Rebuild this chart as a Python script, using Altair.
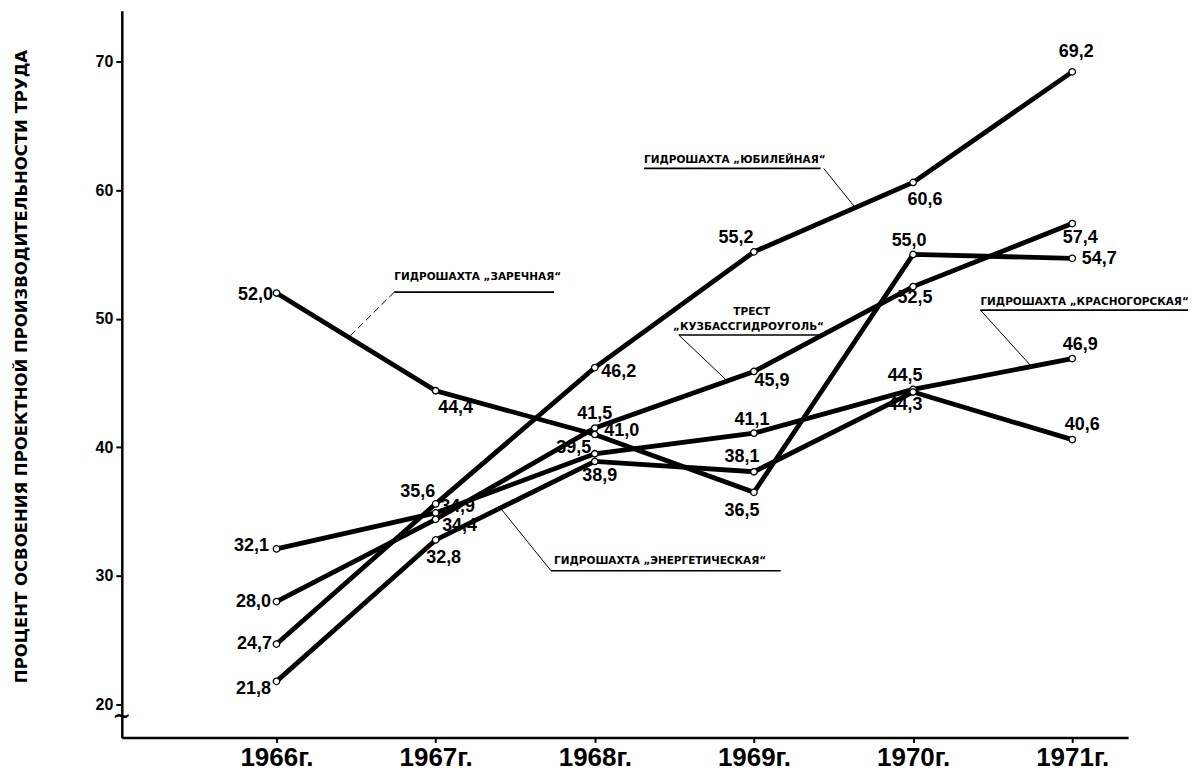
import altair as alt
import pandas as pd

# ---------------- data ----------------
years = [1966, 1967, 1968, 1969, 1970, 1971]
x_labels = ["1966г.", "1967г.", "1968г.", "1969г.", "1970г.", "1971г."]
y_ticks = [20, 30, 40, 50, 60, 70]

series_names = ["Юбилейная", "Заречная", "Кузбассгидроуголь", "Красногорская", "Энергетическая"]
yubileynaya = [24.7, 35.6, 46.2, 55.2, 60.6, 69.2]
zarechnaya = [52.0, 44.4, 41.0, 36.5, 55.0, 54.7]
kuzbass = [28.0, 34.4, 41.5, 45.9, 52.5, 57.4]
krasnogorskaya = [32.1, 34.9, 39.5, 41.1, 44.5, 46.9]
energeticheskaya = [21.8, 32.8, 38.9, 38.1, 44.3, 40.6]
series_values = [yubileynaya, zarechnaya, kuzbass, krasnogorskaya, energeticheskaya]

y_title = "ПРОЦЕНТ ОСВОЕНИЯ ПРОЕКТНОЙ ПРОИЗВОДИТЕЛЬНОСТИ ТРУДА"

# ---------------- layout / style ----------------
W, H = 1008, 728
XMIN, XMAX = 1965.028, 1971.351
YMIN, YMAX = 17.44, 73.96
PX_X = W / (XMAX - XMIN)
PX_Y = H / (YMAX - YMIN)

NARROW = "Liberation Sans Narrow, Liberation Sans, Arial, sans-serif"
WIDE = "DejaVu Sans, sans-serif"

# label offsets in pixels (dx, dy) for each series, per year
label_offsets = {
    "Юбилейная": [(-22, 0), (-18, -12), (24, 4), (-18, -14), (12, 18), (4, -20)],
    "Заречная": [(-21, 2), (20, 17), (27, -3), (-12, 19), (-4, -13), (27, 1)],
    "Кузбассгидроуголь": [(-23, 0), (24, 7), (0, -14), (18, 10), (2, 11), (8, 14)],
    "Красногорская": [(-25, -3), (22, -6), (-21, -6), (-2, -13), (-8, -13), (8, -14)],
    "Энергетическая": [(-23, 8), (8, 18), (5, 15), (-12, -15), (-8, 13), (10, -15)],
}

rows = []
for name, vals in zip(series_names, series_values):
    for i, (yr, v) in enumerate(zip(years, vals)):
        dx, dy = label_offsets[name][i]
        rows.append({
            "series": name, "year": yr, "value": v,
            "label": f"{v:.1f}".replace(".", ","),
            "lx": yr + dx / PX_X, "ly": v - dy / PX_Y,
        })
df = pd.DataFrame(rows)

x_scale = alt.Scale(domain=[XMIN, XMAX], nice=False, zero=False)
y_scale = alt.Scale(domain=[YMIN, YMAX], nice=False, zero=False)

label_map = "{" + ",".join(f"'{y}':'{l}'" for y, l in zip(years, x_labels)) + "}"

x_axis = alt.Axis(values=years, labelExpr=f"{label_map}[datum.value]", title=None,
                  grid=False, domainColor="black", domainWidth=2.5, tickColor="black",
                  tickWidth=2, tickSize=5, labelFont=NARROW, labelFontSize=26,
                  labelFontWeight="bold", labelColor="black", labelPadding=2)
y_axis = alt.Axis(values=y_ticks, format="d", title=y_title, grid=False,
                  domainColor="black", domainWidth=2.5, tickColor="black", tickWidth=2,
                  tickSize=6, labelFont=NARROW, labelFontSize=16, labelFontWeight="bold",
                  labelColor="black", labelPadding=3,
                  titleFont=WIDE, titleFontSize=16.5, titleFontWeight="bold", titleColor="black",
                  titleAngle=270, titleX=-100, titleY=H / 2 - 8, titleAlign="center",
                  titleBaseline="middle")

base = alt.Chart(df)

lines = base.mark_line(color="black", strokeWidth=4.8).encode(
    x=alt.X("year:Q", scale=x_scale, axis=x_axis),
    y=alt.Y("value:Q", scale=y_scale, axis=y_axis),
    detail="series:N",
    order="year:Q",
)

points = base.mark_point(shape="circle", filled=True, fill="white", stroke="black",
                         strokeWidth=1.3, size=42, opacity=1).encode(
    x=alt.X("year:Q", scale=x_scale),
    y=alt.Y("value:Q", scale=y_scale),
)

labels = base.mark_text(font=NARROW, fontSize=18, fontWeight="bold", color="black",
                        align="center", baseline="middle").encode(
    x=alt.X("lx:Q", scale=x_scale),
    y=alt.Y("ly:Q", scale=y_scale),
    text="label:N",
)

# ---------------- annotations (data units) ----------------
ann_text = pd.DataFrame([
    {"t": "ГИДРОШАХТА „ЮБИЛЕЙНАЯ“", "x": 1968.309, "y": 62.1, "a": "left"},
    {"t": "ГИДРОШАХТА „ЗАРЕЧНАЯ“", "x": 1966.740, "y": 53.0, "a": "left"},
    {"t": "ТРЕСТ", "x": 1968.986, "y": 50.5, "a": "center"},
    {"t": "„КУЗБАССГИДРОУГОЛЬ“", "x": 1968.966, "y": 49.35, "a": "center"},
    {"t": "ГИДРОШАХТА „КРАСНОГОРСКАЯ“", "x": 1970.423, "y": 51.06, "a": "left"},
    {"t": "ГИДРОШАХТА „ЭНЕРГЕТИЧЕСКАЯ“", "x": 1967.744, "y": 30.95, "a": "left"},
])
ann_left = alt.Chart(ann_text).transform_filter("datum.a == 'left'").mark_text(
    font=WIDE, fontSize=10.5, fontWeight="bold", color="black", align="left",
    baseline="alphabetic").encode(
    x=alt.X("x:Q", scale=x_scale), y=alt.Y("y:Q", scale=y_scale), text="t:N")
ann_center = alt.Chart(ann_text).transform_filter("datum.a == 'center'").mark_text(
    font=WIDE, fontSize=10.5, fontWeight="bold", color="black", align="center",
    baseline="middle").encode(
    x=alt.X("x:Q", scale=x_scale), y=alt.Y("y:Q", scale=y_scale), text="t:N")

segments = pd.DataFrame([
    # underlines
    {"x": 1968.309, "y": 61.69, "x2": 1969.419, "y2": 61.69, "w": 1.6, "d": "solid"},
    {"x": 1966.740, "y": 52.07, "x2": 1967.744, "y2": 52.07, "w": 1.6, "d": "solid"},
    {"x": 1968.528, "y": 48.73, "x2": 1969.407, "y2": 48.73, "w": 1.6, "d": "solid"},
    {"x": 1970.423, "y": 50.67, "x2": 1971.728, "y2": 50.67, "w": 1.6, "d": "solid"},
    {"x": 1967.725, "y": 30.40, "x2": 1969.168, "y2": 30.40, "w": 1.6, "d": "solid"},
    # leaders
    {"x": 1969.438, "y": 61.69, "x2": 1969.639, "y2": 58.6, "w": 1.0, "d": "solid"},
    {"x": 1966.740, "y": 52.07, "x2": 1966.458, "y2": 48.6, "w": 1.0, "d": "dash"},
    {"x": 1968.528, "y": 48.73, "x2": 1968.829, "y2": 45.2, "w": 1.0, "d": "solid"},
    {"x": 1970.423, "y": 50.67, "x2": 1970.743, "y2": 46.3, "w": 1.0, "d": "solid"},
    {"x": 1967.725, "y": 30.40, "x2": 1967.412, "y2": 35.2, "w": 1.0, "d": "solid"},
])
under = alt.Chart(segments).transform_filter("datum.w > 1.2").mark_rule(
    color="black", strokeWidth=1.6).encode(
    x=alt.X("x:Q", scale=x_scale), y=alt.Y("y:Q", scale=y_scale),
    x2="x2:Q", y2="y2:Q")
leaders = alt.Chart(segments).transform_filter(
    "datum.w < 1.2 && datum.d == 'solid'").mark_rule(
    color="black", strokeWidth=1.0).encode(
    x=alt.X("x:Q", scale=x_scale), y=alt.Y("y:Q", scale=y_scale),
    x2="x2:Q", y2="y2:Q")
leaders_dash = alt.Chart(segments).transform_filter("datum.d == 'dash'").mark_rule(
    color="black", strokeWidth=1.0, strokeDash=[7, 4]).encode(
    x=alt.X("x:Q", scale=x_scale), y=alt.Y("y:Q", scale=y_scale),
    x2="x2:Q", y2="y2:Q")

# axis break mark
brk = alt.Chart(pd.DataFrame([{"x": XMIN, "y": 19.1, "t": "~"}])).mark_text(
    font=WIDE, fontSize=22, fontWeight="bold", color="black", align="center",
    baseline="middle").encode(
    x=alt.X("x:Q", scale=x_scale), y=alt.Y("y:Q", scale=y_scale), text="t:N")

chart = alt.layer(
    under, leaders, leaders_dash, lines, points, labels, ann_left, ann_center, brk
).properties(
    width=W, height=H,
    autosize=alt.AutoSizeParams(type="none"),
    padding={"left": 114, "top": 2, "right": 60, "bottom": 35},
    background="white",
).configure_view(stroke=None)

chart.save("out.html", embed_options={"renderer": "svg", "actions": False})
